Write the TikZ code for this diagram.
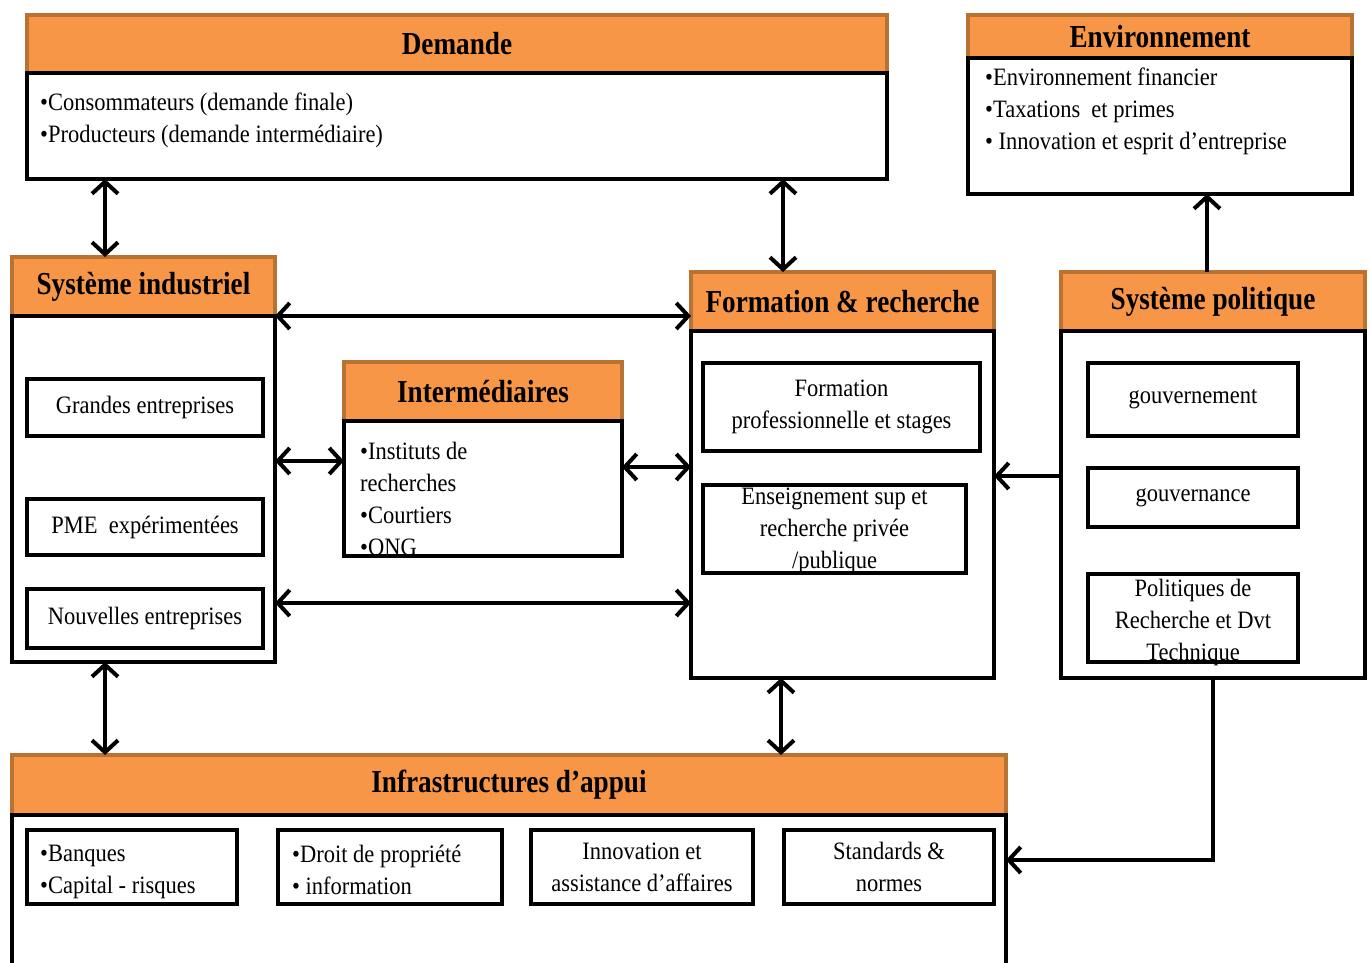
\documentclass[tikz,border=0pt]{standalone}
\usepackage{fontspec}
\setmainfont[FakeStretch=0.9]{Liberation Serif}
\newfontfamily\hdrfont[FakeStretch=0.85]{Liberation Serif}
\usetikzlibrary{positioning,arrows.meta}

\definecolor{hdrfill}{HTML}{F79646}
\definecolor{hdrline}{HTML}{B87333}

\tikzset{
  hdr/.style = {draw=hdrline, fill=hdrfill, line width=4pt, anchor=north west, inner sep=0pt, outer sep=0pt,
    font=\hdrfont\bfseries\fontsize{32}{36}\selectfont},
  body/.style = {draw, line width=4pt, anchor=north, inner sep=0pt, outer sep=0pt},
  item/.style = {draw, line width=4pt, inner sep=2pt, outer sep=0pt, align=center,
    font=\fontsize{25}{32}\selectfont},
  txt/.style = {inner sep=0pt, align=left, anchor=north west, font=\fontsize{25}{32}\selectfont},
  tc/.style = {inner sep=0pt, align=center, font=\fontsize{25}{32}\selectfont},
  link/.style = {line width=4pt, {Straight Barb[length=12pt,width=26pt]}-{Straight Barb[length=12pt,width=26pt]}},
  arr/.style = {line width=4pt, -{Straight Barb[length=12pt,width=26pt]}},
}

\begin{document}
\begin{tikzpicture}[x=1pt, y=-1pt, node distance=0pt]
\useasboundingbox (0,0) rectangle (1371,963);

% Demande
\node[hdr, minimum width=860, minimum height=58] (demh) at (27,15) {Demande};
\node[body, minimum width=860, minimum height=106, below=of demh] (demb) {};
\node[txt] (demt) at (40,93) {•Consommateurs (demande finale)\\•Producteurs (demande intermédiaire)};

% Environnement
\node[hdr, minimum width=384, minimum height=43] (envh) at (968,15) {Environnement};
\node[body, minimum width=384, minimum height=136, below=of envh] (envb) {};
\node[txt] (envt) at (985,68) {•Environnement financier\\•Taxations\ \ et primes\\• Innovation et esprit d’entreprise};

% Systeme industriel
\node[hdr, minimum width=263, minimum height=59] (sih) at (12,257) {Système industriel};
\node[body, minimum width=263, minimum height=346, below=of sih] (sib) {};
\node[item, minimum width=236, minimum height=57] (gde) at (145,407.5) {Grandes entreprises};
\node[item, minimum width=236, minimum height=56] (pme) at (145,527) {PME\ \ expérimentées};
\node[item, minimum width=236, minimum height=59] (nouv) at (145,618.5) {Nouvelles entreprises};

% Intermediaires
\node[hdr, minimum width=278, minimum height=59] (inth) at (344,362) {Intermédiaires};
\node[txt] (intt) at (360,442) {•Instituts de\\recherches\\•Courtiers\\•ONG};
\node[body, minimum width=278, minimum height=135, below=of inth] (intb) {};

% Formation & recherche
\node[hdr, minimum width=303, minimum height=59] (frh) at (691,272) {Formation \& recherche};
\node[body, minimum width=303, minimum height=347, below=of frh] (frb) {};
\node[item, minimum width=277, minimum height=88] (fpro) at (841.5,407) {Formation\\professionnelle et stages};
\node[tc] (enst) at (834.5,531) {Enseignement sup et\\recherche privée\\/publique};
\node[item, minimum width=263, minimum height=88] (ens) at (834.5,529) {};

% Systeme politique
\node[hdr, minimum width=304, minimum height=59] (sph) at (1061,272) {Système politique};
\node[body, minimum width=304, minimum height=347, below=of sph] (spb) {};
\node[item, minimum width=210, minimum height=73] (gouv) at (1193,399.5) {gouvernement};
\node[item, minimum width=210, minimum height=59] (gouvce) at (1193,497.5) {gouvernance};
\node[tc] (polt) at (1193,622) {Politiques de\\Recherche et Dvt\\Technique};
\node[item, minimum width=210, minimum height=88] (pol) at (1193,618) {};

% Infrastructures d'appui
\node[hdr, minimum width=994, minimum height=60] (infh) at (12,755) {Infrastructures d’appui};
\node[body, minimum width=994, minimum height=150, below=of infh] (infb) {};
\node[item, minimum width=210, minimum height=74] (banq) at (132,867) {};
\node[txt] (banqt) at (40,845) {•Banques\\•Capital - risques};
\node[item, minimum width=224, minimum height=74] (droit) at (390,867) {};
\node[txt] (droitt) at (292,845) {•Droit de propriété\\• information};
\node[item, minimum width=222, minimum height=74] (innov) at (642,867) {Innovation et\\assistance d’affaires};
\node[item, minimum width=210, minimum height=74] (stand) at (889,867) {Standards \&\\normes};

% connecteurs
\coordinate (c1) at ([xshift=93]sih.north west);
\coordinate (c2) at ([xshift=92]frh.north west);
\coordinate (c3) at ([xshift=146]sph.north west);
\coordinate (c4) at ([yshift=-40]intb.north west);
\coordinate (c5) at ([yshift=-46]intb.north east);
\coordinate (c6) at ([yshift=-287]sib.north east);
\coordinate (c7) at ([yshift=-145]spb.north west);
\coordinate (c8) at ([xshift=93]sib.south west);
\coordinate (c9) at ([xshift=90]frb.south west);
\coordinate (c10) at ([xshift=152]spb.south west);
\coordinate (c11) at ([yshift=-45]infb.north east);

\draw[link] (c1) -- (c1 |- demb.south);
\draw[link] (c2) -- (c2 |- demb.south);
\draw[arr] (c3) -- (c3 |- envb.south);
\draw[link] (sih.south east) -- (sih.south east -| frh.west);
\draw[link] (c4 -| sib.east) -- (c4);
\draw[link] (c5) -- (c5 -| frb.west);
\draw[link] (c6) -- (c6 -| frb.west);
\draw[arr] (c7) -- (c7 -| frb.east);
\draw[link] (c8) -- (c8 |- infh.north);
\draw[link] (c9) -- (c9 |- infh.north);
\draw[arr] (c10) |- (c11);
\end{tikzpicture}
\end{document}
